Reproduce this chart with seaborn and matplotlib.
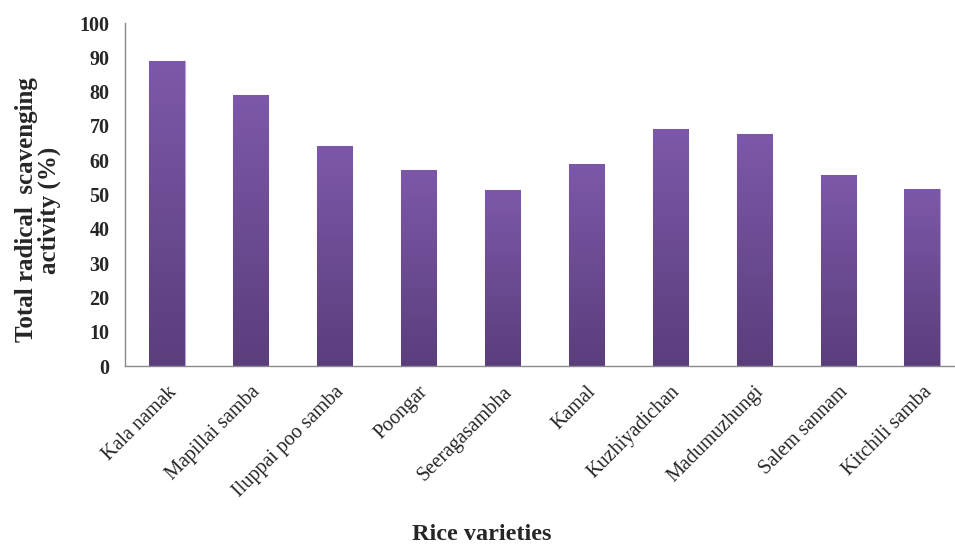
import numpy as np
import pandas as pd
import matplotlib
matplotlib.use("Agg")
import matplotlib.pyplot as plt
import seaborn as sns
from matplotlib.colors import LinearSegmentedColormap
from matplotlib.ticker import FixedLocator

# data
varieties = ["Kala namak", "Mapillai samba", "Iluppai poo samba", "Poongar",
             "Seeragasambha", "Kamal", "Kuzhiyadichan", "Madumuzhungi",
             "Salem sannam", "Kitchili samba"]
activity = [88.8, 79.0, 64.0, 57.0, 51.2, 59.0, 69.2, 67.6, 55.8, 51.6]

df = pd.DataFrame({"variety": varieties, "activity": activity})

sns.set_style("white")
plt.rcParams["font.family"] = ["Liberation Serif", "DejaVu Serif"]

fig = plt.figure(figsize=(9.55, 5.49), dpi=100)
ax = fig.add_axes([125 / 955, 0.3333, 839 / 955, 0.6248])

sns.barplot(data=df, x="variety", y="activity", color="#6a4a92", width=0.42,
            edgecolor="#b9a8d2", linewidth=0.8, ax=ax)

# vertical gradient inside each bar (light top -> dark bottom)
cmap = LinearSegmentedColormap.from_list("purp", ["#5a3e7c", "#7d58a9"])
grad = np.linspace(0, 1, 256).reshape(-1, 1)
for p in ax.patches:
    x0, w, h = p.get_x(), p.get_width(), p.get_height()
    im = ax.imshow(grad, extent=[x0, x0 + w, 0, h], origin="lower",
                   aspect="auto", cmap=cmap, zorder=p.get_zorder() + 0.1)
    im.set_clip_path(p)

ax.set_xlim(-0.5, 9.5)
ax.set_ylim(0, 100)
ax.set_yticks(range(0, 101, 10))
ax.set_yticklabels([str(v) for v in range(0, 101, 10)],
                   fontsize=14.5, fontweight="bold")

# x ticks between categories, labels under bars
ax.set_xticks(range(len(varieties)))
ax.set_xticklabels(varieties, rotation=45, ha="right", rotation_mode="anchor",
                   fontsize=14.5)
ax.xaxis.set_minor_locator(FixedLocator(np.arange(0.5, 9.6, 1.0)))
ax.tick_params(axis="x", which="major", length=0, pad=12)
ax.tick_params(axis="x", which="minor", length=5, color="#8a8a8a", direction="out")
ax.tick_params(axis="y", length=5, color="#8a8a8a", direction="out", pad=6)

for s in ["top", "right"]:
    ax.spines[s].set_visible(False)
for s in ["left", "bottom"]:
    ax.spines[s].set_color("#8a8a8a")
    ax.spines[s].set_linewidth(1.0)

ax.set_xlabel("")
ax.set_ylabel("")

fig.text(482 / 955, 1 - 540 / 549, "Rice varieties", ha="center", va="baseline",
         fontsize=17.5, fontweight="bold")
fig.text(38 / 955, 1 - 210 / 549, "Total radical  scavenging\nactivity (%)",
         rotation=90, ha="center", va="center", multialignment="center",
         fontsize=18, fontweight="bold", linespacing=1.0)

fig.savefig("out.png", dpi=100)
